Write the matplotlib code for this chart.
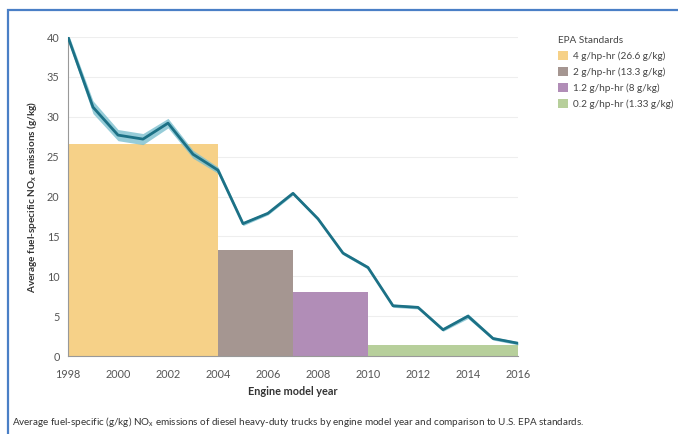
import numpy as np
import matplotlib
matplotlib.use('Agg')
import matplotlib.pyplot as plt
from matplotlib.patches import Rectangle

# data
years = [1998, 1999, 2000, 2001, 2002, 2003, 2004, 2005, 2006, 2007,
         2008, 2009, 2010, 2011, 2012, 2013, 2014, 2015, 2016]
nox = [40.0, 31.2, 27.7, 27.2, 29.2, 25.3, 23.3, 16.6, 17.9, 20.4,
       17.2, 12.9, 11.1, 6.3, 6.1, 3.3, 5.0, 2.2, 1.6]
band = [0.5, 0.8, 0.7, 0.7, 0.6, 0.5, 0.4, 0.25, 0.2, 0.2,
        0.2, 0.2, 0.2, 0.2, 0.2, 0.2, 0.3, 0.2, 0.2]

std_start = [1998, 2004, 2007, 2010]
std_end = [2004, 2007, 2010, 2016]
std_value = [26.6, 13.3, 8, 1.33]
std_labels = ['4 g/hp-hr (26.6 g/kg)', '2 g/hp-hr (13.3 g/kg)',
              '1.2 g/hp-hr (8 g/kg)', '0.2 g/hp-hr (1.33 g/kg)']
std_colors = ['#f6d188', '#a59691', '#b18db7', '#b7cf9b']

plt.rcParams['font.family'] = ['Lato', 'DejaVu Sans']

fig = plt.figure(figsize=(6.78, 4.34), dpi=100)
ax = fig.add_axes([0.1003, 0.1797, 0.6637, 0.735])

# blue frame (left + top visible)
fig.patches.append(Rectangle((8/678, -0.1), 1.2, 1.1 - 10/434, transform=fig.transFigure,
                             fill=False, edgecolor='#4a7fc6', linewidth=1.6))

widths = np.array(std_end) - np.array(std_start)
for s, w, v, c, lab in zip(std_start, widths, std_value, std_colors, std_labels):
    ax.bar(s, v, width=w, align='edge', color=c, label=lab, zorder=2)

y = np.array(nox)
b = np.array(band)
ax.fill_between(years, y - b, y + b, color='#7cc0cf', alpha=0.8, lw=0, zorder=3)
ax.plot(years, nox, color='#1c7186', lw=2, zorder=4)

ax.set_xlim(1998, 2016)
ax.set_ylim(0, 40)
ax.set_xticks(range(1998, 2017, 2))
ax.set_yticks(range(0, 41, 5))
ax.grid(axis='y', color='#eeeeee', lw=0.8, zorder=0)
ax.set_axisbelow(True)
for sp in ['top', 'right']:
    ax.spines[sp].set_visible(False)
for sp in ['left', 'bottom']:
    ax.spines[sp].set_color('#999999')
    ax.spines[sp].set_linewidth(0.8)
ax.tick_params(length=0, labelsize=7.8, colors='#555555', pad=6)
ax.tick_params(axis='x', pad=9)

ax.set_xlabel('Engine model year', fontsize=7.8, fontweight='bold', color='#333333', labelpad=5)
ax.set_ylabel('Average fuel-specific NO$_\\mathregular{x}$ emissions (g/kg)', fontsize=7.2,
              fontweight='bold', color='#333333', labelpad=6)

leg = ax.legend(loc='upper left', bbox_to_anchor=(1.08, 1.015), frameon=False,
                title='EPA Standards', fontsize=7.2, title_fontsize=7.2,
                handlelength=1.0, handleheight=1.0, handletextpad=0.5,
                labelspacing=0.6, borderaxespad=0)
leg._legend_box.align = 'left'
for t in leg.get_texts():
    t.set_color('#444444')
leg.get_title().set_color('#444444')

fig.text(12/678, 1 - 422/434,
         'Average fuel-specific (g/kg) NO$_\\mathregular{x}$ emissions of diesel heavy-duty trucks by engine model year and comparison to U.S. EPA standards.',
         fontsize=7.1, color='#333333', va='center')

fig.savefig('out.png', dpi=100)
